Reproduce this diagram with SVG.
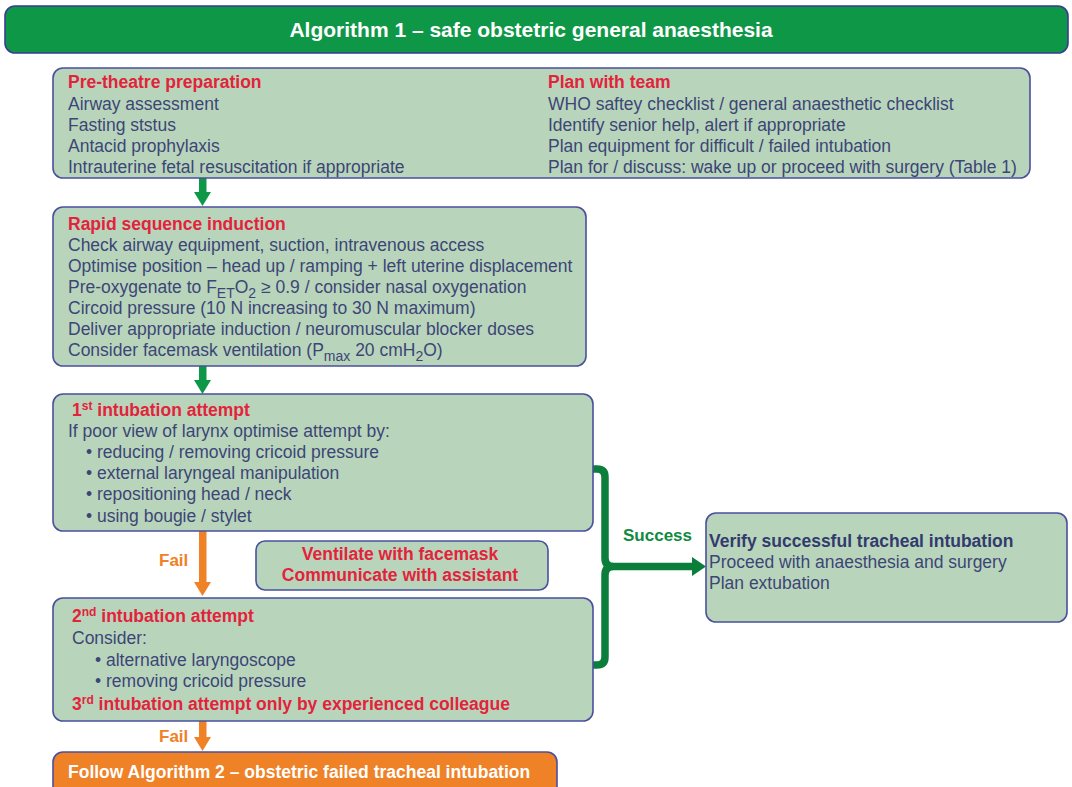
<svg xmlns="http://www.w3.org/2000/svg" width="1072" height="787" viewBox="0 0 1072 787">
<style>
.box{fill:#b8d5bb;stroke:#4a4f9e;stroke-width:1.6}
text{font-family:"Liberation Sans",Arial,Helvetica,sans-serif;font-size:17.5px;fill:#3d4577}
.h{font-weight:bold;fill:#e2233b}
.w{font-weight:bold;fill:#ffffff}
.f{font-weight:bold;fill:#ef8126;font-size:17px}
.g{font-weight:bold;fill:#0f8a3e;font-size:17px}
.nb{font-weight:bold;fill:#333b6e}
.sm{font-size:12px}
</style>
<rect width="1072" height="787" fill="#ffffff"/>

<g id="title">
<rect x="5" y="6" width="1063" height="47" rx="10" fill="#0f9748" stroke="#3a3d8f" stroke-width="1.6"/>
<text x="531" y="37" class="w" text-anchor="middle" style="font-size:21px">Algorithm 1 – safe obstetric general anaesthesia</text>
</g>

<g id="connectors">
<g fill="#0f9748">
<rect x="199" y="178" width="7.5" height="15"/>
<polygon points="194,192 211,192 202.5,206"/>
<rect x="199" y="366" width="7.5" height="15"/>
<polygon points="194,380 211,380 202.5,394"/>
</g>
<g fill="#ef8126">
<rect x="199" y="531" width="7.5" height="52"/>
<polygon points="194,582 211,582 202.5,596"/>
<rect x="199" y="721" width="7.5" height="17"/>
<polygon points="194,737 211,737 202.5,751"/>
</g>
<g fill="none" stroke="#0b7e3b" stroke-width="7.5">
<path d="M593,469 H597 Q605,469 605,477 V558 Q605,566.5 613,566.5 H694"/>
<path d="M593,665 H597 Q605,665 605,657 V575 Q605,566.5 613,566.5"/>
</g>
<polygon points="692,557 706,566.5 692,576" fill="#0b7e3b"/>
<text x="159" y="566" class="f">Fail</text>
<text x="159" y="742" class="f">Fail</text>
<text x="623" y="541" class="g">Success</text>
</g>

<g id="pretheatre">
<rect x="53" y="68" width="977" height="110" rx="10" class="box"/>
<text x="68" y="88" class="h">Pre-theatre preparation</text>
<text x="68" y="110">Airway assessment</text>
<text x="68" y="131">Fasting ststus</text>
<text x="68" y="152">Antacid prophylaxis</text>
<text x="68" y="173">Intrauterine fetal resuscitation if appropriate</text>
<text x="548" y="88" class="h">Plan with team</text>
<text x="548" y="110">WHO saftey checklist / general anaesthetic checklist</text>
<text x="548" y="131">Identify senior help, alert if appropriate</text>
<text x="548" y="152">Plan equipment for difficult / failed intubation</text>
<text x="548" y="173">Plan for / discuss: wake up or proceed with surgery (Table 1)</text>
</g>

<g id="rsi">
<rect x="53" y="207" width="533" height="159" rx="10" class="box"/>
<text x="68" y="230" class="h">Rapid sequence induction</text>
<text x="68" y="251">Check airway equipment, suction, intravenous access</text>
<text x="68" y="272">Optimise position – head up / ramping + left uterine displacement</text>
<text x="68" y="293">Pre-oxygenate to F<tspan dy="5" style="font-size:14px">ET</tspan><tspan dy="-5">O</tspan><tspan dy="5" style="font-size:14px">2</tspan><tspan dy="-5"> ≥ 0.9 / consider nasal oxygenation</tspan></text>
<text x="68" y="314">Circoid pressure (10 N increasing to 30 N maximum)</text>
<text x="68" y="335">Deliver appropriate induction / neuromuscular blocker doses</text>
<text x="68" y="356">Consider facemask ventilation (P<tspan dy="5" style="font-size:14px">max</tspan><tspan dy="-5"> 20 cmH</tspan><tspan dy="5" style="font-size:14px">2</tspan><tspan dy="-5">O)</tspan></text>
</g>

<g id="first">
<rect x="53" y="394" width="540" height="137" rx="10" class="box"/>
<text x="72" y="416" class="h">1<tspan dy="-6" class="sm">st</tspan><tspan dy="6"> intubation attempt</tspan></text>
<text x="68" y="437">If poor view of larynx optimise attempt by:</text>
<text x="86" y="458">• reducing / removing cricoid pressure</text>
<text x="86" y="479">• external laryngeal manipulation</text>
<text x="86" y="500">• repositioning head / neck</text>
<text x="86" y="522">• using bougie / stylet</text>
</g>

<g id="ventilate">
<rect x="256" y="541" width="292" height="49" rx="9" class="box"/>
<text x="400" y="560" class="h" text-anchor="middle">Ventilate with facemask</text>
<text x="400" y="581" class="h" text-anchor="middle">Communicate with assistant</text>
</g>

<g id="second">
<rect x="53" y="598" width="540" height="123" rx="10" class="box"/>
<text x="72" y="622" class="h">2<tspan dy="-6" class="sm">nd</tspan><tspan dy="6"> intubation attempt</tspan></text>
<text x="72" y="644">Consider:</text>
<text x="95" y="666">• alternative laryngoscope</text>
<text x="95" y="687">• removing cricoid pressure</text>
<text x="72" y="710" class="h">3<tspan dy="-6" class="sm">rd</tspan><tspan dy="6"> intubation attempt only by experienced colleague</tspan></text>
</g>

<g id="verify">
<rect x="706" y="513" width="361" height="109" rx="10" class="box"/>
<text x="709" y="547" class="nb">Verify successful tracheal intubation</text>
<text x="709" y="568">Proceed with anaesthesia and surgery</text>
<text x="709" y="589">Plan extubation</text>
</g>

<g id="algorithm2">
<rect x="53" y="752" width="504" height="45" rx="10" fill="#ef8126" stroke="#4a4f9e" stroke-width="1.6"/>
<text x="68" y="778" class="w">Follow Algorithm 2 – obstetric failed tracheal intubation</text>
</g>
</svg>
